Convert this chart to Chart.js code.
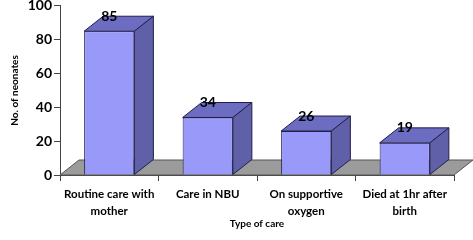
<!DOCTYPE html>
<html>
<head>
<meta charset="utf-8">
<script src="https://cdn.jsdelivr.net/npm/chart.js@4"></script>
<style>
  html, body { margin: 0; padding: 0; background: #fff; }
  #wrap { width: 473px; height: 240px; }
</style>
</head>
<body>
<div id="wrap"><canvas id="myChart"></canvas></div>
<script>
const categorias = [
    ['Routine care with', 'mother'],
    'Care in NBU',
    ['On supportive', 'oxygen'],
    ['Died at 1hr after', 'birth']
];
const valores = [85, 34, 26, 19];
const yTicks = [0, 20, 40, 60, 80, 100];

const FONTE = 'Lato, "Open Sans", sans-serif';
const DX = 19, DY = -15;   // profundidade do efeito 3D

// chao cinza + faces laterais/topo das barras
const efeito3d = {
    id: 'efeito3d',
    beforeDatasetsDraw(chart) {
        const ctx = chart.ctx;
        const x = chart.scales.x, y = chart.scales.y;
        const y0 = y.getPixelForValue(0);
        ctx.save();
        ctx.beginPath();
        ctx.moveTo(x.left, y0);
        ctx.lineTo(x.right, y0);
        ctx.lineTo(x.right + DX, y0 + DY);
        ctx.lineTo(x.left + DX, y0 + DY);
        ctx.closePath();
        ctx.fillStyle = '#9b9b9b';
        ctx.fill();
        ctx.strokeStyle = '#555';
        ctx.lineWidth = 1;
        ctx.stroke();
        ctx.restore();
    },
    afterDatasetsDraw(chart) {
        const ctx = chart.ctx;
        const meta = chart.getDatasetMeta(0);
        ctx.save();
        ctx.lineWidth = 1;
        ctx.strokeStyle = '#20204a';
        meta.data.forEach((bar, i) => {
            const l = bar.x - bar.width / 2, r = bar.x + bar.width / 2;
            const t = bar.y, b = bar.base;
            // topo
            ctx.beginPath();
            ctx.moveTo(l, t);
            ctx.lineTo(r, t);
            ctx.lineTo(r + DX, t + DY);
            ctx.lineTo(l + DX, t + DY);
            ctx.closePath();
            ctx.fillStyle = '#6c6cc2';
            ctx.fill();
            ctx.stroke();
            // lateral
            ctx.beginPath();
            ctx.moveTo(r, t);
            ctx.lineTo(r + DX, t + DY);
            ctx.lineTo(r + DX, b + DY);
            ctx.lineTo(r, b);
            ctx.closePath();
            ctx.fillStyle = '#6060a8';
            ctx.fill();
            ctx.stroke();
            // valor
            ctx.fillStyle = '#000';
            ctx.font = 'bold 14px ' + FONTE;
            ctx.textAlign = 'center';
            ctx.textBaseline = 'middle';
            ctx.fillText(String(valores[i]), bar.x, t - 15);
        });
        ctx.restore();
    }
};

const config = {
    type: 'bar',
    data: {
        labels: categorias,
        datasets: [{
            label: 'No. of neonates',
            data: valores,
            backgroundColor: '#9999fa',
            borderColor: '#20204a',
            borderWidth: 1,
            barPercentage: 0.51,
            categoryPercentage: 1
        }]
    },
    options: {
        responsive: false,
        animation: false,
        maintainAspectRatio: false,
        layout: { padding: { top: 0, right: 19, bottom: 6, left: 0 } },
        plugins: {
            legend: { display: false },
            tooltip: { enabled: false }
        },
        scales: {
            x: {
                afterFit: s => { s.height = 59; },
                grid: {
                    offset: true,
                    drawOnChartArea: false,
                    tickLength: 6,
                    color: '#444'
                },
                border: { display: true, color: '#444' },
                ticks: {
                    color: '#000',
                    padding: 5,
                    maxRotation: 0,
                    autoSkip: false,
                    font: { family: FONTE, size: 11.5, weight: 'bold', lineHeight: 1.45 }
                },
                title: {
                    display: true,
                    text: 'Type of care',
                    color: '#000',
                    padding: { top: 4, bottom: 4 },
                    font: { family: FONTE, size: 10, weight: 'bold' }
                }
            },
            y: {
                min: 0,
                max: 100,
                afterFit: s => { s.width = 60; },
                afterBuildTicks: s => { s.ticks = yTicks.map(v => ({ value: v })); },
                grid: {
                    drawOnChartArea: false,
                    tickLength: 6,
                    color: '#444'
                },
                border: { display: true, color: '#444' },
                ticks: {
                    color: '#000',
                    padding: 2,
                    font: { family: FONTE, size: 14, weight: 'bold', lineHeight: 0.55 }
                },
                title: {
                    display: true,
                    text: 'No. of neonates',
                    color: '#000',
                    padding: { top: 9, bottom: 4 },
                    font: { family: FONTE, size: 10, weight: 'bold' }
                }
            }
        }
    },
    plugins: [efeito3d]
};

const canvas = document.getElementById('myChart');
canvas.width = 473;
canvas.height = 240;
const myChart = new Chart(canvas, config);
</script>
</body>
</html>
